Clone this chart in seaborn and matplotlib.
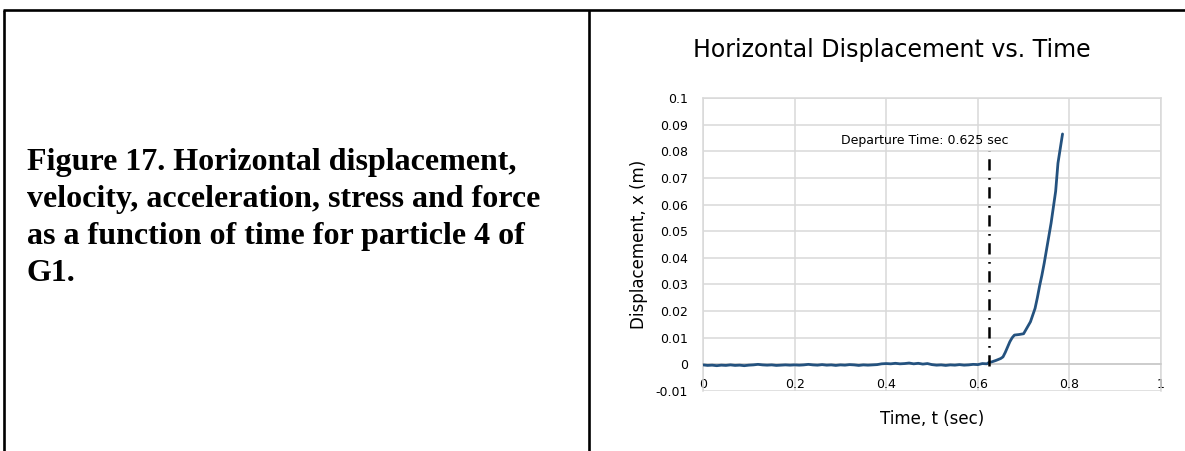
import numpy as np
import pandas as pd
import matplotlib
matplotlib.use("Agg")
import matplotlib.pyplot as plt
import seaborn as sns
from matplotlib.lines import Line2D

# ---------------- data ----------------
time_s = [0.00, 0.01, 0.02, 0.03, 0.04, 0.05, 0.06, 0.07, 0.08, 0.09,
          0.10, 0.11, 0.12, 0.13, 0.14, 0.15, 0.16, 0.17, 0.18, 0.19,
          0.20, 0.21, 0.22, 0.23, 0.24, 0.25, 0.26, 0.27, 0.28, 0.29,
          0.30, 0.31, 0.32, 0.33, 0.34, 0.35, 0.36, 0.37, 0.38, 0.39,
          0.40, 0.41, 0.42, 0.43, 0.44, 0.45, 0.46, 0.47, 0.48, 0.49,
          0.50, 0.51, 0.52, 0.53, 0.54, 0.55, 0.56, 0.57, 0.58, 0.59,
          0.60, 0.61, 0.62, 0.625, 0.63, 0.64, 0.65, 0.655, 0.66, 0.665,
          0.67, 0.675, 0.68, 0.69, 0.70, 0.705, 0.71, 0.715, 0.72, 0.725,
          0.73, 0.735, 0.74, 0.745, 0.75, 0.755, 0.76, 0.765, 0.77, 0.775,
          0.78, 0.785]
displacement_m = [-0.0002, -0.0004, -0.0003, -0.0005, -0.0003, -0.0004, -0.0002, -0.0004, -0.0003, -0.0005,
                  -0.0003, -0.0002, 0.0000, -0.0002, -0.0003, -0.0002, -0.0004, -0.0003, -0.0002, -0.0003,
                  -0.0002, -0.0003, -0.0002, 0.0000, -0.0002, -0.0003, -0.0001, -0.0003, -0.0002, -0.0004,
                  -0.0002, -0.0003, -0.0001, -0.0002, -0.0004, -0.0002, -0.0003, -0.0002, -0.0001, 0.0002,
                  0.0003, 0.0002, 0.0004, 0.0002, 0.0003, 0.0005, 0.0002, 0.0004, 0.0001, 0.0003,
                  -0.0001, -0.0003, -0.0002, -0.0004, -0.0002, -0.0003, -0.0001, -0.0003, -0.0002, 0.0000,
                  -0.0001, 0.0003, 0.0002, 0.0008, 0.0009, 0.0015, 0.0022, 0.0028, 0.0045, 0.0065,
                  0.0085, 0.0100, 0.0110, 0.0112, 0.0115, 0.0130, 0.0145, 0.0160, 0.0185, 0.0210,
                  0.0250, 0.0295, 0.0335, 0.0380, 0.0430, 0.0480, 0.0530, 0.0590, 0.0650, 0.0755,
                  0.0810, 0.0865]

departure_time = 0.625
departure_span = [-0.0005, 0.0800]
departure_label = "Departure Time: 0.625 sec"

x_ticks = [0, 0.2, 0.4, 0.6, 0.8, 1]
x_tick_labels = ["0", "0.2", "0.4", "0.6", "0.8", "1"]
y_ticks = [-0.01, 0, 0.01, 0.02, 0.03, 0.04, 0.05, 0.06, 0.07, 0.08, 0.09, 0.1]
y_tick_labels = ["-0.01", "0", "0.01", "0.02", "0.03", "0.04", "0.05",
                 "0.06", "0.07", "0.08", "0.09", "0.1"]

chart_title = "Horizontal Displacement vs. Time"
x_label = "Time, t (sec)"
y_label = "Displacement, x (m)"
caption_lines = ["Figure 17. Horizontal displacement,",
                 "velocity, acceleration, stress and force",
                 "as a function of time for particle 4 of",
                 "G1."]

# ---------------- style ----------------
sns.set_theme(style="whitegrid")
plt.rcParams["font.family"] = ["DejaVu Sans"]

W, H = 1185, 451
fig = plt.figure(figsize=(W / 100, H / 100), dpi=100)
fig.patch.set_facecolor("white")

def fx(px):
    return px / W

def fy(py):
    return 1 - py / H

# table borders
border_kw = dict(color="black", linewidth=1.9, transform=fig.transFigure, solid_capstyle="butt")
fig.add_artist(Line2D([fx(3), fx(1185)], [fy(10), fy(10)], **border_kw))
fig.add_artist(Line2D([fx(4.2), fx(4.2)], [fy(10), fy(451)], **border_kw))
fig.add_artist(Line2D([fx(588.5), fx(588.5)], [fy(10), fy(451)], **border_kw))

# caption text in the left cell
caption_baselines = [170, 207, 244, 281]
for line, yb in zip(caption_lines, caption_baselines):
    fig.text(fx(27), fy(yb), line, family=["Liberation Serif"], fontweight="bold",
             fontsize=23, ha="left", va="baseline", color="black")

# chart axes
ax = fig.add_axes([fx(703), fy(391), fx(1161) - fx(703), (391 - 98) / H])
ax.set_facecolor("white")

df = pd.DataFrame({"t": time_s, "x": displacement_m})
sns.lineplot(data=df, x="t", y="x", ax=ax, color="#24527f", linewidth=2.0, zorder=3)

ax.plot([departure_time, departure_time], departure_span, color="black",
        linewidth=1.8, linestyle=(0, (4.5, 3.0, 0.7, 3.0)), zorder=4)
ax.text(0.485, 0.0842, departure_label, ha="center", va="center", fontsize=9, color="black")

ax.set_xlim(0, 1)
ax.set_ylim(-0.01, 0.1)
ax.set_xticks(x_ticks)
ax.set_xticklabels(x_tick_labels)
ax.set_yticks(y_ticks)
ax.set_yticklabels(y_tick_labels)
ax.grid(True, color="#d9d9d9", linewidth=1.1)
ax.tick_params(axis="both", length=0, labelsize=9, colors="black")
ax.tick_params(axis="y", pad=11)
ax.tick_params(axis="x", pad=10)

for side in ["left", "right", "top", "bottom"]:
    ax.spines[side].set_color("#d9d9d9")
    ax.spines[side].set_linewidth(1.1)
ax.spines["bottom"].set_position(("data", 0))
ax.spines["bottom"].set_color("#c8c8c8")

ax.set_xlabel(x_label, fontsize=12, color="black")
ax.set_ylabel(y_label, fontsize=12, color="black")
ax.xaxis.set_label_coords(0.5, -0.065)
ax.yaxis.set_label_coords(-0.12, 0.5)

fig.text(fx(892), fy(50), chart_title, ha="center", va="center", fontsize=17, color="black")

fig.savefig("out.png", dpi=100)
